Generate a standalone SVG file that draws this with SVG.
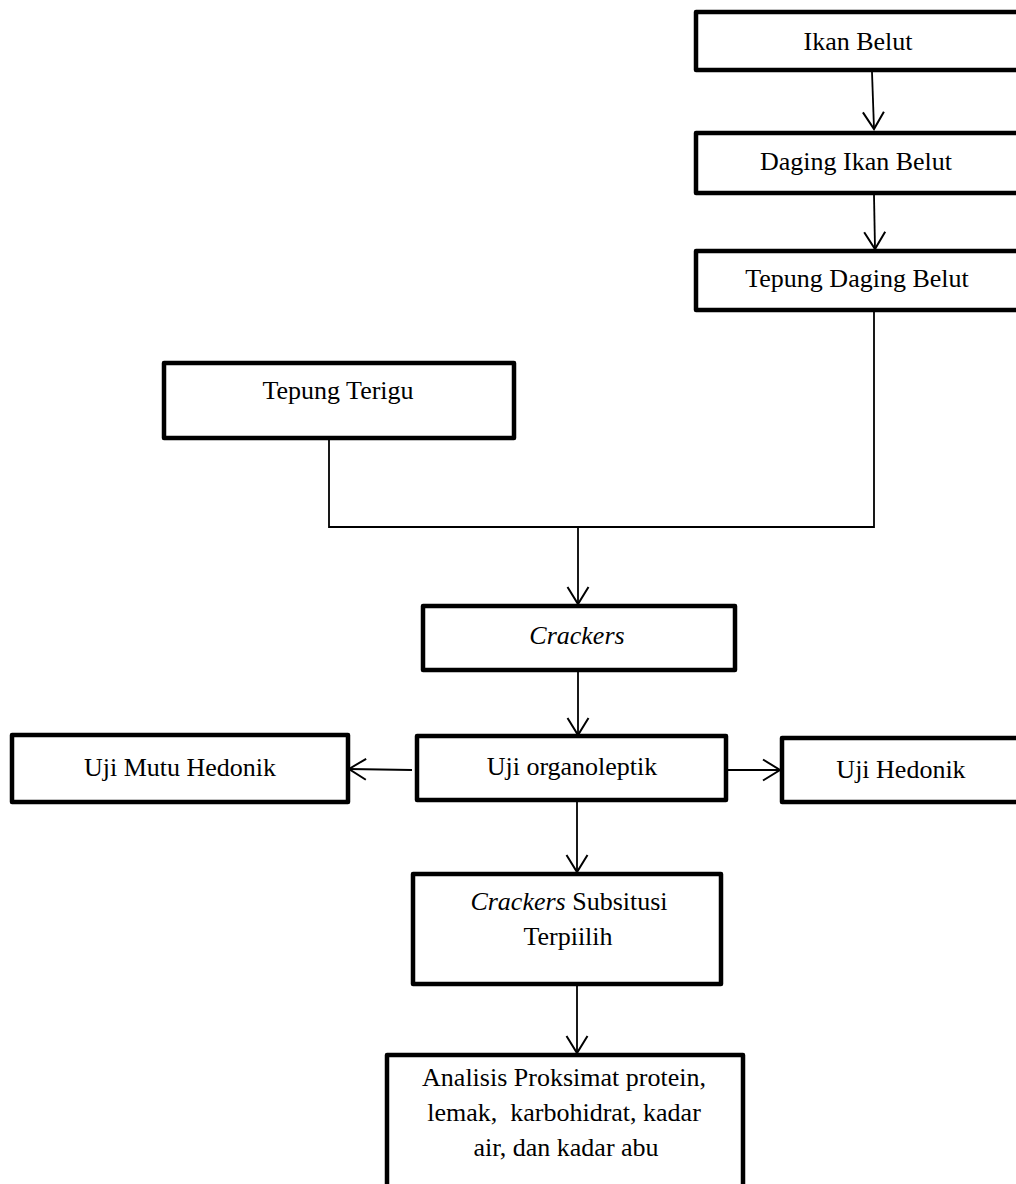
<svg xmlns="http://www.w3.org/2000/svg" width="1016" height="1184" viewBox="0 0 1016 1184">
  <style>
    .box { fill: #ffffff; stroke: #000000; stroke-width: 4.5; stroke-linejoin: round; }
    .lbl { font-family: "Liberation Serif", "Times New Roman", serif; font-size: 26px; fill: #000000; text-anchor: middle; }
    .it { font-style: italic; }
    .wire { fill: none; stroke: #000000; stroke-width: 1.8; }
    .arrow { fill: none; stroke: #000000; stroke-width: 1.8; marker-end: url(#vhead); }
  </style>
  <defs>
    <!-- open V arrowhead -->
    <marker id="vhead" viewBox="0 0 20 24" refX="18" refY="12" markerWidth="20" markerHeight="24" markerUnits="userSpaceOnUse" orient="auto">
      <path d="M1,1.5 L18,12 L1,22.5" fill="none" stroke="#000000" stroke-width="2"/>
    </marker>
  </defs>
  <rect width="1016" height="1184" fill="#ffffff"/>

  <g id="connectors">
    <line class="arrow" x1="872" y1="72" x2="874" y2="129"/>
    <line class="arrow" x1="874" y1="195" x2="875" y2="249"/>
    <polyline class="wire" points="874,312 874,527 329,527 329,440"/>
    <line class="arrow" x1="578" y1="527" x2="578" y2="604"/>
    <line class="arrow" x1="578" y1="672" x2="578" y2="735"/>
    <line class="arrow" x1="412" y1="770" x2="349" y2="769"/>
    <line class="arrow" x1="728" y1="770" x2="780" y2="770"/>
    <line class="arrow" x1="577" y1="802" x2="577" y2="872"/>
    <line class="arrow" x1="577" y1="986" x2="577" y2="1053"/>
  </g>

  <g id="ikan-belut">
    <rect class="box" x="696" y="12" width="324" height="58"/>
    <text class="lbl" x="858" y="50">Ikan Belut</text>
  </g>

  <g id="daging-ikan-belut">
    <rect class="box" x="696" y="133" width="324" height="60"/>
    <text class="lbl" x="856" y="170">Daging Ikan Belut</text>
  </g>

  <g id="tepung-daging-belut">
    <rect class="box" x="696" y="251" width="324" height="59"/>
    <text class="lbl" x="857" y="287">Tepung Daging Belut</text>
  </g>

  <g id="tepung-terigu">
    <rect class="box" x="164" y="363" width="350" height="75"/>
    <text class="lbl" x="338" y="399">Tepung Terigu</text>
  </g>

  <g id="crackers">
    <rect class="box" x="423" y="606" width="312" height="64"/>
    <text class="lbl it" x="577" y="644">Crackers</text>
  </g>

  <g id="uji-mutu-hedonik">
    <rect class="box" x="12" y="735" width="336" height="67"/>
    <text class="lbl" x="180" y="776">Uji Mutu Hedonik</text>
  </g>

  <g id="uji-organoleptik">
    <rect class="box" x="417" y="736" width="309" height="64"/>
    <text class="lbl" x="572" y="775">Uji organoleptik</text>
  </g>

  <g id="uji-hedonik">
    <rect class="box" x="782" y="738" width="240" height="64"/>
    <text class="lbl" x="901" y="778">Uji Hedonik</text>
  </g>

  <g id="crackers-terpilih">
    <rect class="box" x="413" y="874" width="308" height="110"/>
    <text class="lbl" x="569" y="910"><tspan class="it">Crackers</tspan> Subsitusi</text>
    <text class="lbl" x="568" y="945">Terpiilih</text>
  </g>

  <g id="analisis-proksimat">
    <rect class="box" x="387" y="1055" width="356" height="140"/>
    <text class="lbl" x="564" y="1086">Analisis Proksimat protein,</text>
    <text class="lbl" x="564" y="1121" xml:space="preserve">lemak,  karbohidrat, kadar</text>
    <text class="lbl" x="566" y="1156">air, dan kadar abu</text>
  </g>
</svg>
